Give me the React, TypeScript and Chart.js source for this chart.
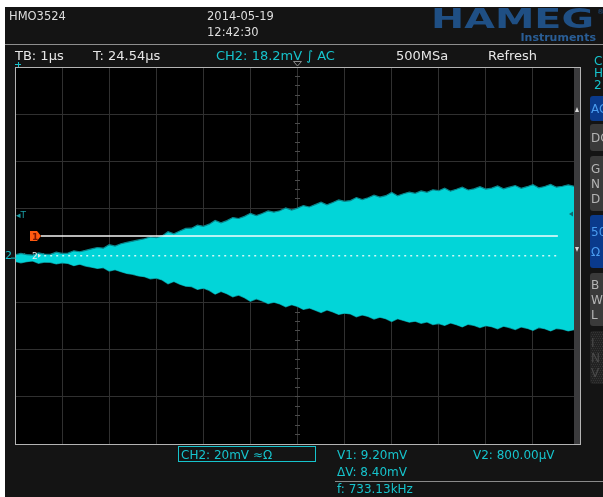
import React, { useEffect, useRef } from "react";
import { Chart, registerables } from "chart.js";

Chart.register(...registerables);

const CANVAS_W = 603;
const CANVAS_H = 497;

// scope settings
const TIME_DIVS = 12; // 1 µs / div
const MV_PER_DIV = 20;
const VOLT_DIVS = 8;
const SAMPLE_STEP_US = 0.125;

// signal envelope (displayed mV, relative to screen centre), one value per sample
const ENVELOPE_TOP_MV = [
  0.3, 0.9, 0.4, 0.2, 1.1, 0.6, 0.5, 1.4, 0.9, 1.0,
  2.0, 1.6, 2.2, 2.8, 3.4, 3.1, 4.6, 4.0, 5.0, 5.6,
  6.1, 6.6, 7.1, 7.9, 7.6, 8.3, 10.1, 9.2, 10.4, 11.5,
  11.6, 12.9, 12.4, 13.3, 14.9, 13.9, 14.8, 16.1, 15.7, 16.6,
  17.9, 16.9, 17.8, 18.9, 18.4, 19.0, 20.2, 19.3, 20.1, 21.2,
  20.6, 21.6, 22.6, 21.5, 22.5, 23.6, 23.0, 23.3, 24.6, 23.7,
  24.5, 25.6, 24.8, 25.4, 26.8, 25.3, 26.2, 26.9, 26.4, 27.4,
  26.8, 27.9, 27.5, 28.6, 27.3, 28.1, 29.0, 27.8, 28.3, 29.2,
  28.2, 28.6, 29.5, 28.3, 29.0, 29.7, 28.5, 29.2, 30.1, 28.7,
  29.3, 30.2, 29.0, 29.4, 30.0, 29.4,
];
const ENVELOPE_BOTTOM_MV = [
  -2.5, -3.1, -2.6, -2.3, -3.3, -2.8, -2.9, -3.6, -3.1, -3.4,
  -4.3, -3.7, -4.5, -5.0, -5.5, -5.2, -6.6, -6.0, -6.9, -7.6,
  -8.0, -8.7, -9.0, -9.9, -9.6, -10.4, -12.0, -11.0, -12.2, -13.0,
  -13.2, -14.4, -13.9, -14.8, -16.4, -15.3, -16.2, -17.5, -16.8, -17.9,
  -19.4, -18.4, -19.3, -20.4, -19.8, -20.6, -21.8, -20.9, -21.6, -22.9,
  -22.3, -23.2, -24.2, -23.1, -24.0, -25.0, -24.5, -24.8, -26.0, -25.2,
  -25.9, -27.0, -26.2, -26.8, -28.0, -26.8, -27.6, -28.3, -27.9, -28.8,
  -28.2, -29.3, -28.9, -29.7, -28.6, -29.4, -30.3, -29.2, -29.7, -30.6,
  -29.8, -30.2, -31.1, -30.0, -30.6, -31.4, -30.3, -30.9, -31.8, -30.6,
  -31.1, -32.0, -31.0, -31.3, -32.0, -31.5,
];

// cursors
const CH2_GROUND_MV = -0.9;
const CURSOR_V1_MV = 9.2;
const CURSOR_V2_MV = 0.8;
const CURSOR_V1_SPAN_US = [0.55, 11.53];
const CURSOR_V2_SPAN_US = [0.62, 11.51];

// texts
const HEADER_MODEL = "HMO3524";
const HEADER_DATE = "2014-05-19";
const HEADER_TIME = "12:42:30";
const STATUS_TB = "TB: 1µs";
const STATUS_T = "T: 24.54µs";
const STATUS_CH = "CH2: 18.2mV ∫ AC";
const STATUS_SA = "500MSa";
const STATUS_MODE = "Refresh";
const CH_BOX = "CH2: 20mV ≈Ω";
const MEAS_V1 = "V1: 9.20mV";
const MEAS_V2 = "V2: 800.00µV";
const MEAS_DV = "ΔV: 8.40mV";
const MEAS_F = "f: 733.13kHz";
const SIDE_TITLE = ["C", "H", "2"];
const SIDE_BUTTONS = [
  { lines: ["AC"], active: true },
  { lines: ["DC"], active: false },
  { lines: ["G", "N", "D"], active: false },
  { lines: ["50", "Ω"], active: true },
  { lines: ["B", "W", "L"], active: false },
  { lines: ["I", "N", "V"], active: false, disabled: true },
];

const FONT = "DejaVu Sans";
const CYAN = "#16c3cc";

function txt(ctx: CanvasRenderingContext2D, s: string, x: number, y: number, size: number, color: string, weight = "normal", align: CanvasTextAlign = "left") {
  ctx.font = `${weight} ${size}px "${FONT}"`;
  ctx.fillStyle = color;
  ctx.textAlign = align;
  ctx.textBaseline = "alphabetic";
  ctx.fillText(s, x, y);
}

function roundRect(ctx: CanvasRenderingContext2D, x: number, y: number, w: number, h: number, r: number) {
  ctx.beginPath();
  ctx.moveTo(x + r, y);
  ctx.lineTo(x + w, y);
  ctx.lineTo(x + w, y + h);
  ctx.lineTo(x + r, y + h);
  ctx.arcTo(x, y + h, x, y + h - r, r);
  ctx.lineTo(x, y + r);
  ctx.arcTo(x, y, x + r, y, r);
  ctx.closePath();
}

const scopePlugin = {
  id: "scopeDecor",
  beforeDraw(chart: any) {
    const { ctx, chartArea: a } = chart;
    ctx.save();
    ctx.fillStyle = "#ffffff";
    ctx.fillRect(0, 0, CANVAS_W, CANVAS_H);
    ctx.fillStyle = "#141414";
    ctx.fillRect(5, 7, CANVAS_W - 5, CANVAS_H - 7);
    ctx.fillStyle = "#000000";
    ctx.fillRect(a.left, a.top, a.right - a.left, a.bottom - a.top);
    ctx.restore();
  },
  beforeDatasetsDraw(chart: any) {
    const { ctx } = chart;
    const xs = chart.scales.x;
    const ys = chart.scales.y;
    ctx.save();
    ctx.strokeStyle = "#4c4c4c";
    ctx.lineWidth = 1;
    const cx = Math.round(xs.getPixelForValue(TIME_DIVS / 2) - 0.5) + 0.5;
    const cy = Math.round(ys.getPixelForValue(0) - 0.5) + 0.5;
    ctx.beginPath();
    for (let k = 1; k < VOLT_DIVS * 5; k++) {
      const y = Math.round(ys.getPixelForValue(-VOLT_DIVS / 2 * MV_PER_DIV + k * MV_PER_DIV / 5) - 0.5) + 0.5;
      ctx.moveTo(cx - 2.5, y);
      ctx.lineTo(cx + 2.5, y);
    }
    for (let k = 1; k < TIME_DIVS * 5; k++) {
      const x = Math.round(xs.getPixelForValue(k / 5) - 0.5) + 0.5;
      ctx.moveTo(x, cy - 2.5);
      ctx.lineTo(x, cy + 2.5);
    }
    ctx.stroke();
    ctx.restore();
  },
  afterDatasetsDraw(chart: any) {
    const { ctx, chartArea: a } = chart;
    const ys = chart.scales.y;
    ctx.save();
    // offset strip on right
    ctx.fillStyle = "#3b3b3d";
    ctx.fillRect(a.right - 6, a.top, 6, a.bottom - a.top);
    // frame
    ctx.strokeStyle = "#b4b4b4";
    ctx.lineWidth = 1;
    ctx.strokeRect(a.left + 0.5, a.top + 0.5, a.right - a.left, a.bottom - a.top);
    // strip markers
    ctx.fillStyle = "#d8d8d8";
    ctx.beginPath();
    ctx.moveTo(a.right - 5, 112); ctx.lineTo(a.right - 1, 112); ctx.lineTo(a.right - 3, 107); ctx.closePath();
    ctx.fill();
    ctx.beginPath();
    ctx.moveTo(a.right - 5, 247); ctx.lineTo(a.right - 1, 247); ctx.lineTo(a.right - 3, 252); ctx.closePath();
    ctx.fill();
    ctx.fillStyle = "#0b6c70";
    ctx.beginPath();
    ctx.moveTo(569, 214); ctx.lineTo(573, 211.5); ctx.lineTo(573, 216.5); ctx.closePath();
    ctx.fill();
    // trigger position marker at top
    const cx = chart.scales.x.getPixelForValue(TIME_DIVS / 2);
    ctx.strokeStyle = "#8a8a8a";
    ctx.beginPath();
    ctx.moveTo(cx - 4, 61.5); ctx.lineTo(cx + 4, 61.5); ctx.lineTo(cx, 66); ctx.closePath();
    ctx.stroke();
    // cyan cross top-left
    ctx.strokeStyle = CYAN;
    ctx.beginPath();
    ctx.moveTo(15, 64.5); ctx.lineTo(21, 64.5);
    ctx.moveTo(18.5, 62); ctx.lineTo(18.5, 67);
    ctx.stroke();
    // trigger level "T"
    txt(ctx, "◂T", 16, 218, 9, "#1a9ea6");
    // ground marker "2"
    const gy = ys.getPixelForValue(CH2_GROUND_MV);
    txt(ctx, "2", 5, gy + 1, 11, CYAN);
    ctx.strokeStyle = CYAN;
    ctx.beginPath();
    ctx.moveTo(11, gy + 0.5); ctx.lineTo(18, gy + 0.5);
    ctx.stroke();
    // cursor V1 marker (orange)
    const y1 = ys.getPixelForValue(CURSOR_V1_MV + CH2_GROUND_MV);
    ctx.fillStyle = "#ff5a10";
    ctx.beginPath();
    ctx.moveTo(30, y1 - 5); ctx.lineTo(37, y1 - 5); ctx.lineTo(41, y1); ctx.lineTo(37, y1 + 5); ctx.lineTo(30, y1 + 5); ctx.closePath();
    ctx.fill();
    txt(ctx, "1", 32, y1 + 4, 9, "#7a1400", "bold");
    // cursor V2 marker
    const y2 = ys.getPixelForValue(CURSOR_V2_MV + CH2_GROUND_MV);
    txt(ctx, "2", 32, y2 + 3.5, 9, "#e8e8e8");
    ctx.fillStyle = "#e8e8e8";
    ctx.beginPath();
    ctx.moveTo(38, y2 - 2); ctx.lineTo(41, y2); ctx.lineTo(38, y2 + 2); ctx.closePath();
    ctx.fill();
    ctx.restore();
  },
  afterDraw(chart: any) {
    const { ctx } = chart;
    ctx.save();
    // header row
    txt(ctx, HEADER_MODEL, 9, 20, 11.5, "#dedede");
    txt(ctx, HEADER_DATE, 207, 20, 11.5, "#dedede");
    txt(ctx, HEADER_TIME, 207, 36, 11.5, "#dedede");
    // HAMEG logo
    ctx.save();
    ctx.font = `bold 26px "${FONT}"`;
    const lw = ctx.measureText("HAMEG").width;
    ctx.translate(431, 28);
    ctx.scale(163 / lw, 1);
    ctx.fillStyle = "#1f4f84";
    ctx.textAlign = "left";
    ctx.fillText("HAMEG", 0, 0);
    ctx.restore();
    txt(ctx, "®", 597, 14, 7, "#1f4f84");
    txt(ctx, "Instruments", 596, 41, 11, "#2a5e96", "bold", "right");
    // separator
    ctx.strokeStyle = "#8e8e8e";
    ctx.beginPath();
    ctx.moveTo(5, 44.5); ctx.lineTo(CANVAS_W, 44.5);
    ctx.stroke();
    // status row
    txt(ctx, STATUS_TB, 15, 60, 13, "#e6e6e6");
    txt(ctx, STATUS_T, 93, 60, 13, "#e6e6e6");
    txt(ctx, STATUS_CH, 216, 60, 13, CYAN);
    txt(ctx, STATUS_SA, 396, 60, 13, "#e6e6e6");
    txt(ctx, STATUS_MODE, 488, 60, 13, "#e6e6e6");
    // side panel
    SIDE_TITLE.forEach((s, i) => txt(ctx, s, 594, 65 + i * 12, 12, CYAN));
    const btnY = [96, 124, 156, 215, 273, 331];
    const btnH = [25, 27, 55, 53, 53, 53];
    SIDE_BUTTONS.forEach((b, i) => {
      roundRect(ctx, 590, btnY[i], 20, btnH[i], 3);
      ctx.fillStyle = b.active ? "#0a3a8c" : b.disabled ? "#222222" : "#3a3a3a";
      ctx.fill();
      if (b.disabled) {
        ctx.fillStyle = "#333333";
        for (let yy = btnY[i] + 1; yy < btnY[i] + btnH[i] - 1; yy += 2) {
          for (let xx = 591 + ((yy - btnY[i]) % 4 === 1 ? 0 : 1); xx < CANVAS_W; xx += 2) {
            ctx.fillRect(xx, yy, 1, 1);
          }
        }
      }
      const color = b.active ? "#4a9cf0" : b.disabled ? "#4a4a4a" : "#b4b4b4";
      const n = b.lines.length;
      const step = n === 1 ? 0 : n === 2 ? 20 : 15;
      const start = btnY[i] + btnH[i] / 2 - (step * (n - 1)) / 2 + 4.5;
      b.lines.forEach((s, j) => txt(ctx, s, 591, start + j * step, 12, color));
    });
    // bottom info
    ctx.strokeStyle = CYAN;
    ctx.strokeRect(178.5, 446.5, 137, 15);
    txt(ctx, CH_BOX, 181, 459, 12, CYAN);
    txt(ctx, MEAS_V1, 337, 459, 12, CYAN);
    txt(ctx, MEAS_V2, 473, 459, 12, CYAN);
    txt(ctx, MEAS_DV, 337, 476, 12, CYAN);
    ctx.strokeStyle = "#8a8a8a";
    ctx.beginPath();
    ctx.moveTo(335, 481.5); ctx.lineTo(CANVAS_W, 481.5);
    ctx.stroke();
    txt(ctx, MEAS_F, 337, 493, 12, CYAN);
    ctx.restore();
  },
};

export default function App() {
  const ref = useRef<HTMLCanvasElement | null>(null);
  useEffect(() => {
    if (!ref.current) return;
    const toPts = (arr: number[]) => arr.map((v, i) => ({ x: i * SAMPLE_STEP_US, y: v }));
    const cursorPts = (span: number[], mv: number) => span.map((x) => ({ x, y: mv + CH2_GROUND_MV }));
    const chart = new Chart(ref.current, {
      type: "line",
      data: {
        datasets: [
          {
            data: toPts(ENVELOPE_TOP_MV),
            borderColor: "#0a848a",
            borderWidth: 1.2,
            backgroundColor: "#02d5d8",
            fill: "+1",
            pointRadius: 0,
            tension: 0,
            order: 2,
          },
          {
            data: toPts(ENVELOPE_BOTTOM_MV),
            borderColor: "#0a848a",
            borderWidth: 1.2,
            fill: false,
            pointRadius: 0,
            tension: 0,
            order: 2,
          },
          {
            data: cursorPts(CURSOR_V1_SPAN_US, CURSOR_V1_MV),
            borderColor: "rgba(255,255,255,0.72)",
            borderWidth: 2,
            fill: false,
            pointRadius: 0,
            order: 0,
          },
          {
            data: cursorPts(CURSOR_V2_SPAN_US, CURSOR_V2_MV),
            borderColor: "rgba(255,255,255,0.8)",
            borderWidth: 1.5,
            borderDash: [2, 4],
            fill: false,
            pointRadius: 0,
            order: 0,
          },
        ],
      },
      options: {
        responsive: false,
        animation: false,
        devicePixelRatio: 1,
        events: [],
        layout: { padding: { left: 15, top: 67, right: 23, bottom: 53 } },
        plugins: { legend: { display: false }, tooltip: { enabled: false } },
        scales: {
          x: {
            type: "linear",
            min: 0,
            max: TIME_DIVS,
            ticks: { display: false, stepSize: 1 },
            grid: { color: "#303030", drawTicks: false },
            border: { display: false },
          },
          y: {
            type: "linear",
            min: -(VOLT_DIVS / 2) * MV_PER_DIV,
            max: (VOLT_DIVS / 2) * MV_PER_DIV,
            ticks: { display: false, stepSize: MV_PER_DIV },
            grid: { color: "#303030", drawTicks: false },
            border: { display: false },
          },
        },
      },
      plugins: [scopePlugin],
    } as any);
    return () => chart.destroy();
  }, []);
  return (
    <div style={{ position: "fixed", left: 0, top: 0, width: CANVAS_W, height: CANVAS_H }}>
      <canvas ref={ref} width={CANVAS_W} height={CANVAS_H} style={{ display: "block" }} />
    </div>
  );
}
